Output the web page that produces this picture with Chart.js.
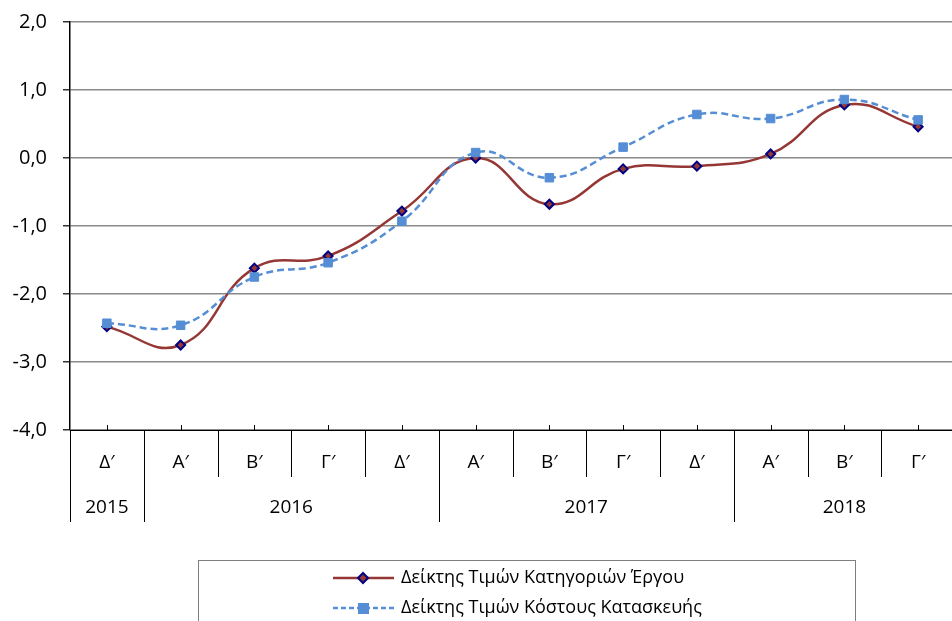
<!DOCTYPE html>
<html>
<head>
<meta charset="utf-8">
<script src="https://cdn.jsdelivr.net/npm/chart.js@4.4.0/dist/chart.umd.min.js"></script>
<style>
  html, body { margin: 0; padding: 0; background: #fff; overflow: hidden; }
  #wrap { width: 962px; height: 621px; }
</style>
</head>
<body>
<div id="wrap"><canvas id="chart" width="962" height="621"></canvas></div>
<script>
  // quarters along the bottom, years grouped under them
  const quarters = ['Δ′', 'Α′', 'Β′', 'Γ′', 'Δ′', 'Α′', 'Β′', 'Γ′', 'Δ′', 'Α′', 'Β′', 'Γ′'];
  const years = ['2015', '2016', '2017', '2018'];
  const yearSpans = [1, 4, 4, 3];

  const projectIndex = [-2.48, -2.75, -1.62, -1.44, -0.78, 0.0, -0.68, -0.16, -0.12, 0.06, 0.78, 0.46];
  const costIndex = [-2.43, -2.46, -1.75, -1.54, -0.93, 0.08, -0.29, 0.16, 0.64, 0.58, 0.86, 0.56];

  const seriesNames = ['Δείκτης Τιμών Κατηγοριών Έργου', 'Δείκτης Τιμών Κόστους Κατασκευής'];
  const yMin = -4, yMax = 2, yStep = 1;

  const FONT = "'Open Sans', sans-serif";
  const RED = '#953735';
  const NAVY = '#000080';
  const BLUE = '#558ED5';

  const fmt = v => v.toFixed(1).replace('.', ',');

  function drawDiamond(ctx, x, y) {
    ctx.save();
    ctx.beginPath();
    ctx.moveTo(x, y - 5); ctx.lineTo(x + 5, y); ctx.lineTo(x, y + 5); ctx.lineTo(x - 5, y); ctx.closePath();
    ctx.fillStyle = RED; ctx.fill();
    ctx.strokeStyle = NAVY; ctx.lineWidth = 2; ctx.stroke();
    ctx.restore();
  }

  const categoryAxis = {
    id: 'categoryAxis',
    afterDraw(chart) {
      const ctx = chart.ctx;
      const { left, right, bottom } = chart.chartArea;
      const xs = chart.scales.x;
      const w = xs.getPixelForValue(1) - xs.getPixelForValue(0);

      ctx.save();
      ctx.strokeStyle = '#000';
      ctx.lineWidth = 1;
      ctx.beginPath();
      ctx.moveTo(left, bottom + 0.5);
      ctx.lineTo(right, bottom + 0.5);
      // small ticks at category centres
      quarters.forEach((q, i) => {
        const cx = Math.round(xs.getPixelForValue(i)) + 0.5;
        ctx.moveTo(cx, bottom - 5);
        ctx.lineTo(cx, bottom);
      });
      // separators, longer ones at year boundaries
      const yearStarts = [0];
      yearSpans.reduce((s, n) => { yearStarts.push(s + n); return s + n; }, 0);
      for (let i = 0; i <= quarters.length; i++) {
        const bx = Math.round(left + i * w) + 0.5;
        const len = yearStarts.includes(i) ? 92 : 47;
        ctx.moveTo(bx, bottom);
        ctx.lineTo(bx, bottom + len);
      }
      ctx.stroke();

      ctx.fillStyle = '#000';
      ctx.font = '19px ' + FONT;
      ctx.textAlign = 'center';
      ctx.textBaseline = 'middle';
      quarters.forEach((q, i) => ctx.fillText(q, xs.getPixelForValue(i), bottom + 33));
      let start = 0;
      years.forEach((y, k) => {
        const x0 = left + start * w;
        const x1 = left + (start + yearSpans[k]) * w;
        ctx.fillText(y, (x0 + x1) / 2, bottom + 78);
        start += yearSpans[k];
      });

      // legend box
      ctx.strokeStyle = '#7f7f7f';
      ctx.strokeRect(198.5, 560.5, 657, 80);
      ctx.font = '18px ' + FONT;
      ctx.textAlign = 'left';
      const rows = [578, 608];
      ctx.lineWidth = 2.5;
      ctx.strokeStyle = RED;
      ctx.beginPath(); ctx.moveTo(333, rows[0]); ctx.lineTo(394, rows[0]); ctx.stroke();
      drawDiamond(ctx, 363, rows[0]);
      ctx.strokeStyle = BLUE;
      ctx.setLineDash([5, 3]);
      ctx.beginPath(); ctx.moveTo(333, rows[1]); ctx.lineTo(394, rows[1]); ctx.stroke();
      ctx.setLineDash([]);
      ctx.fillStyle = BLUE;
      ctx.fillRect(358, rows[1] - 5, 11, 11);
      ctx.fillStyle = '#000';
      seriesNames.forEach((n, i) => ctx.fillText(n, 401, rows[i]));
      ctx.restore();
    }
  };

  new Chart(document.getElementById('chart'), {
    type: 'line',
    data: {
      labels: quarters,
      datasets: [{
        label: seriesNames[0],
        data: projectIndex,
        borderColor: RED,
        borderWidth: 2.5,
        tension: 0.45,
        pointStyle: 'rectRot',
        pointRadius: 4.5,
        pointBackgroundColor: RED,
        pointBorderColor: NAVY,
        pointBorderWidth: 2,
        order: 1
      }, {
        label: seriesNames[1],
        data: costIndex,
        borderColor: BLUE,
        borderWidth: 2.5,
        borderDash: [7, 4],
        tension: 0.45,
        pointStyle: 'rect',
        pointRadius: 6,
        pointBackgroundColor: BLUE,
        pointBorderColor: BLUE,
        pointBorderWidth: 1,
        order: 0
      }]
    },
    options: {
      responsive: false,
      animation: false,
      devicePixelRatio: 1,
      layout: { padding: { top: 22, bottom: 191, right: 1, left: 0 } },
      plugins: { legend: { display: false }, tooltip: { enabled: false } },
      scales: {
        x: { display: false, offset: true },
        y: {
          min: yMin,
          max: yMax,
          afterFit(scale) {
            scale.width = 70;
            scale.paddingTop = 0;
            scale.paddingBottom = 0;
          },
          ticks: {
            stepSize: yStep,
            color: '#000',
            padding: 16,
            font: { family: FONT, size: 20 },
            callback: v => fmt(v)
          },
          grid: { color: '#8a8a8a', lineWidth: 1.5, tickLength: 7, tickColor: '#333' },
          border: { color: '#000', width: 1.5 }
        }
      }
    },
    plugins: [categoryAxis]
  });
</script>
</body>
</html>
